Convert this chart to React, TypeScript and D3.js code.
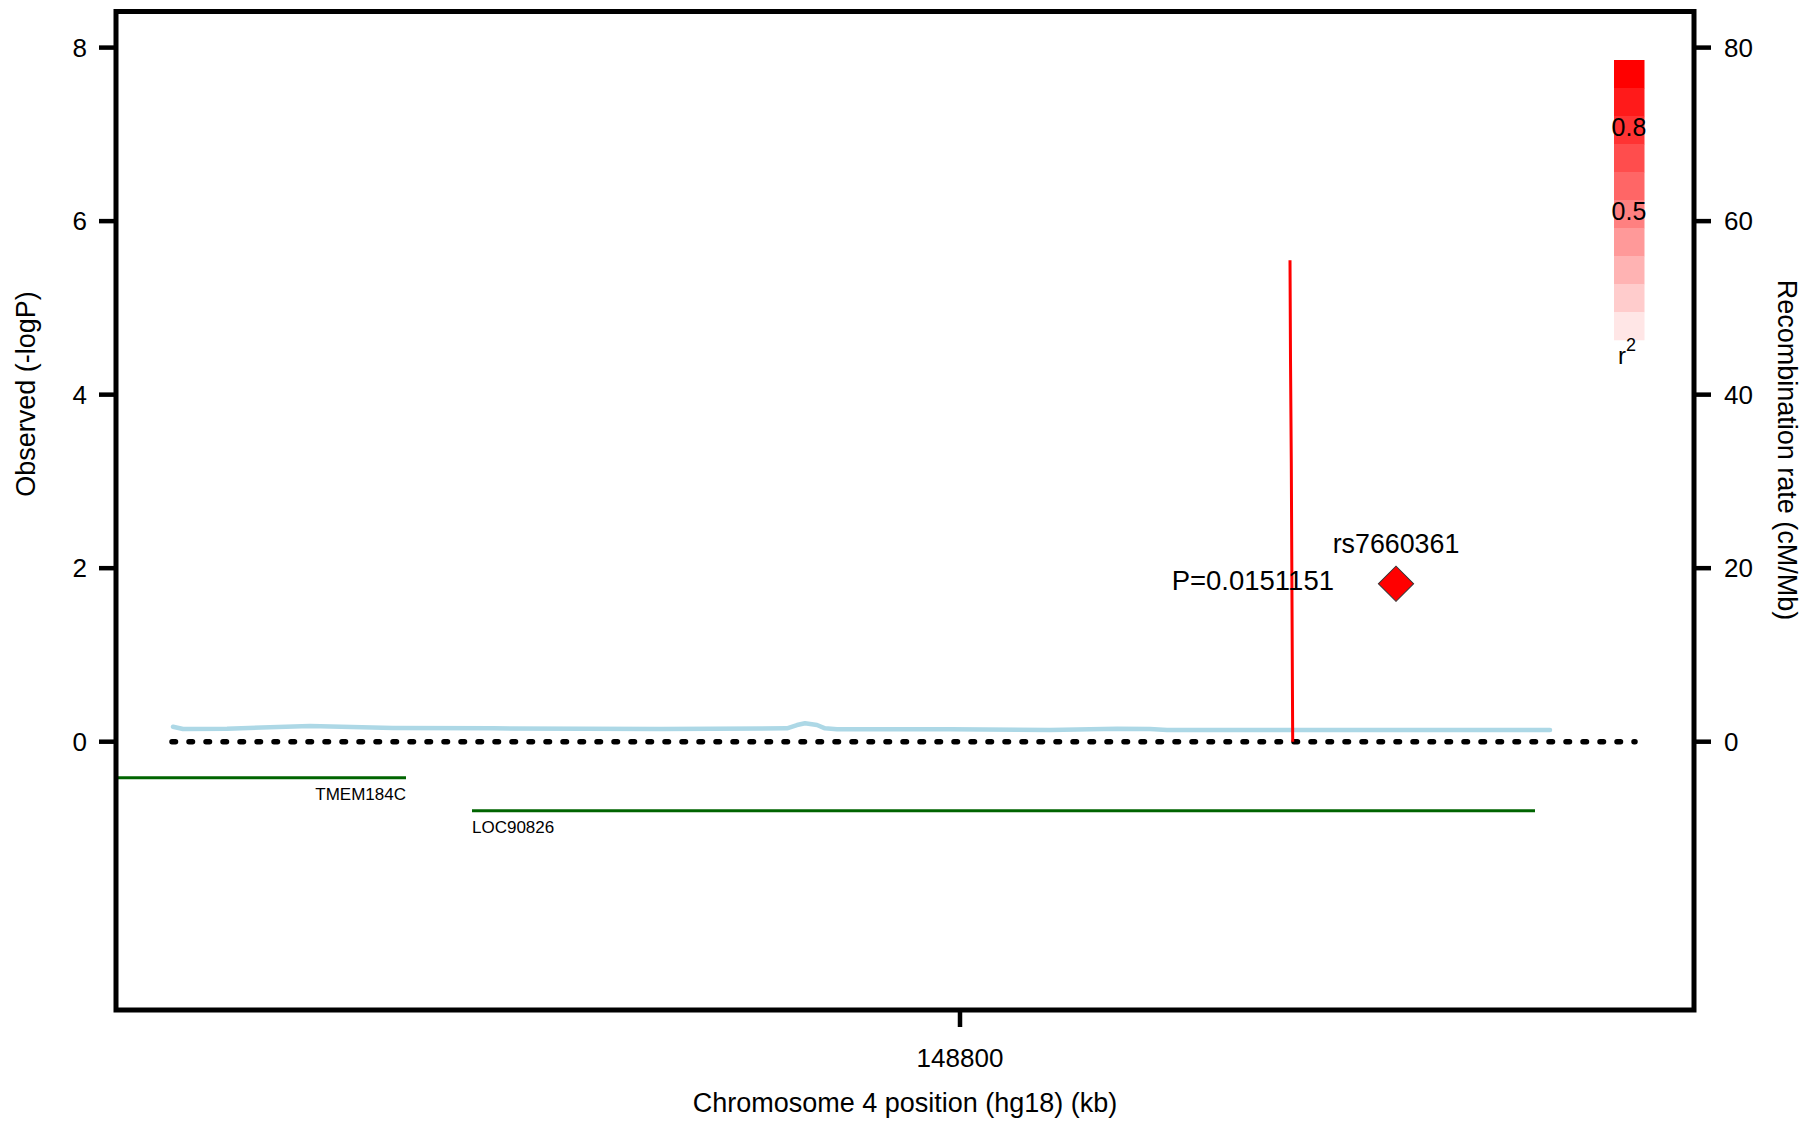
import React from 'react';
import * as d3 from 'd3';

const W = 1819;
const H = 1123;

// Axis ticks
const leftTicks = [0, 2, 4, 6, 8];
const rightTicks = [0, 20, 40, 60, 80];
const xTicks = [148800];

// Recombination rate (cM/Mb) along the region (kb)
const recombPos = [
  148721.3, 148722.3, 148726.7, 148735.0, 148743.3, 148753.3, 148770.0,
  148782.7, 148783.7, 148784.5, 148785.7, 148786.5, 148787.7, 148799.0,
  148809.0, 148815.7, 148819.0, 148820.7, 148859.0,
];
const recombRate = [
  1.73, 1.46, 1.5, 1.81, 1.58, 1.54, 1.46,
  1.54, 1.92, 2.12, 1.92, 1.54, 1.43, 1.43,
  1.35, 1.5, 1.46, 1.35, 1.35,
];

// Sharp recombination peak drawn in red (cM/Mb)
const spikePos = [148833.0, 148833.05, 148833.13, 148833.27];
const spikeRate = [55.5, 44.0, 32.1, 0];

// Extent of the dotted baseline (kb)
const baselineExtent = [148721.2, 148867.5];

// Genes in the region
const geneNames = ['TMEM184C', 'LOC90826'];
const geneStart = [148690.0, 148751.2];
const geneEnd = [148744.6, 148857.5];
const geneRow = [0, 1];

// Queried SNP
const snpName = 'rs7660361';
const snpPos = 148843.6;
const snpP = 0.0151151;
const snpR2 = 1.0;

// r² colour key
const keyLevels = [1.0, 0.9, 0.8, 0.7, 0.6, 0.5, 0.4, 0.3, 0.2, 0.1];
const keyLabels = [0.8, 0.5];

const FONT = '"Liberation Sans", Arial, Helvetica, sans-serif';

export default function App() {
  const left = 116;
  const right = 1694;
  const top = 11.5;
  const bottom = 1010;

  const x = d3.scaleLinear().domain([148715.6, 148873.4]).range([left, right]);
  const y = d3.scaleLinear().domain([0, 8]).range([741.7, 47.6]);
  const yDomainLo = y.invert(bottom);
  const yDomainHi = y.invert(top);
  const yR = d3.scaleLinear().domain([yDomainLo * 10, yDomainHi * 10]).range([bottom, top]);

  const r2Color = d3.interpolateRgb('#ffffff', '#ff0000');
  const keyY = d3.scaleLinear().domain([1, 0]).range([60, 340]);

  const recombLine = d3
    .line<number>()
    .x((_, i) => x(recombPos[i]))
    .y((d) => yR(d))
    .curve(d3.curveLinear);

  const spikeLine = d3
    .line<number>()
    .x((_, i) => x(spikePos[i]))
    .y((d) => yR(d));

  const diamond = d3.symbol().type(d3.symbolSquare).size(620)();
  const snpLogP = -Math.log10(snpP);

  const geneY = (row: number) => y(0) + 36 + row * 33;

  return (
    <svg
      width={W}
      height={H}
      viewBox={`0 0 ${W} ${H}`}
      style={{ position: 'absolute', left: 0, top: 0, background: '#fff', fontFamily: FONT }}
    >
      <defs>
        <clipPath id="plotArea">
          <rect x={left} y={top} width={right - left} height={bottom - top} />
        </clipPath>
      </defs>
      <rect x={0} y={0} width={W} height={H} fill="#fff" />

      <g clipPath="url(#plotArea)">
        {/* recombination rate */}
        <path
          d={recombLine(recombRate) || ''}
          fill="none"
          stroke="#add8e6"
          strokeWidth={4.5}
          strokeLinejoin="round"
          strokeLinecap="round"
        />
        {/* dotted zero baseline */}
        <line
          x1={x(baselineExtent[0])}
          x2={x(baselineExtent[1])}
          y1={y(0)}
          y2={y(0)}
          stroke="#000"
          strokeWidth={5.5}
          strokeDasharray="3.5 13.5"
          strokeLinecap="round"
        />
        {/* recombination peak */}
        <path d={spikeLine(spikeRate) || ''} fill="none" stroke="#ff0000" strokeWidth={3} />

        {/* genes */}
        {geneNames.map((name, i) => {
          const gy = geneY(geneRow[i]);
          const startsBefore = geneStart[i] < x.domain()[0];
          return (
            <g key={name}>
              <line
                x1={x(geneStart[i])}
                x2={x(geneEnd[i])}
                y1={gy}
                y2={gy}
                stroke="#006400"
                strokeWidth={3}
              />
              <text
                x={startsBefore ? x(geneEnd[i]) : x(geneStart[i])}
                y={gy + 22.5}
                fontSize={17}
                textAnchor={startsBefore ? 'end' : 'start'}
                fill="#000"
              >
                {name}
              </text>
            </g>
          );
        })}

        {/* queried SNP */}
        <path
          d={diamond || ''}
          transform={`translate(${x(snpPos)},${y(snpLogP)}) rotate(45)`}
          fill={r2Color(snpR2)}
          stroke="#333"
          strokeWidth={1}
        />
        <text
          x={x(snpPos)}
          y={y(snpLogP) - 40}
          fontSize={26.8}
          textAnchor="middle"
          dominantBaseline="central"
          fill="#000"
        >
          {snpName}
        </text>
        <text
          x={x(snpPos) - 62}
          y={y(snpLogP) - 3}
          fontSize={27.5}
          textAnchor="end"
          dominantBaseline="central"
          fill="#000"
        >
          {`P=${snpP}`}
        </text>

        {/* r² key */}
        {keyLevels.map((lv) => (
          <rect
            key={lv}
            x={1614}
            y={keyY(lv)}
            width={30.5}
            height={keyY(lv - 0.1) - keyY(lv) + 0.3}
            fill={r2Color(lv)}
          />
        ))}
        {keyLabels.map((lv) => (
          <text
            key={lv}
            x={1629}
            y={keyY(lv) + 10.5}
            fontSize={25}
            textAnchor="middle"
            dominantBaseline="central"
            fill="#000"
          >
            {lv.toFixed(1)}
          </text>
        ))}
        <text x={1618} y={364} fontSize={24} fill="#000">
          r
          <tspan dy={-13} fontSize={18}>
            2
          </tspan>
        </text>
      </g>

      {/* frame */}
      <rect
        x={left}
        y={top}
        width={right - left}
        height={bottom - top}
        fill="none"
        stroke="#000"
        strokeWidth={5}
      />

      {/* left axis */}
      {leftTicks.map((t) => (
        <g key={`l${t}`}>
          <line x1={left - 17} x2={left} y1={y(t)} y2={y(t)} stroke="#000" strokeWidth={4.5} />
          <text
            x={87}
            y={y(t)}
            fontSize={26}
            textAnchor="end"
            dominantBaseline="central"
            fill="#000"
          >
            {t}
          </text>
        </g>
      ))}

      {/* right axis */}
      {rightTicks.map((t) => (
        <g key={`r${t}`}>
          <line x1={right} x2={right + 17} y1={yR(t)} y2={yR(t)} stroke="#000" strokeWidth={4.5} />
          <text
            x={1724}
            y={yR(t)}
            fontSize={26}
            textAnchor="start"
            dominantBaseline="central"
            fill="#000"
          >
            {t}
          </text>
        </g>
      ))}

      {/* bottom axis */}
      {xTicks.map((t) => (
        <g key={`x${t}`}>
          <line x1={x(t)} x2={x(t)} y1={bottom} y2={bottom + 17} stroke="#000" strokeWidth={4.5} />
          <text
            x={x(t)}
            y={1058}
            fontSize={26}
            textAnchor="middle"
            dominantBaseline="central"
            fill="#000"
          >
            {t}
          </text>
        </g>
      ))}

      {/* axis titles */}
      <text
        x={(left + right) / 2}
        y={1103}
        fontSize={27}
        textAnchor="middle"
        dominantBaseline="central"
        fill="#000"
      >
        Chromosome 4 position (hg18) (kb)
      </text>
      <text
        transform="translate(26,394) rotate(-90)"
        fontSize={27}
        textAnchor="middle"
        dominantBaseline="central"
        fill="#000"
      >
        Observed (-logP)
      </text>
      <text
        transform="translate(1787,450) rotate(90)"
        fontSize={27}
        textAnchor="middle"
        dominantBaseline="central"
        fill="#000"
      >
        Recombination rate (cM/Mb)
      </text>
    </svg>
  );
}
